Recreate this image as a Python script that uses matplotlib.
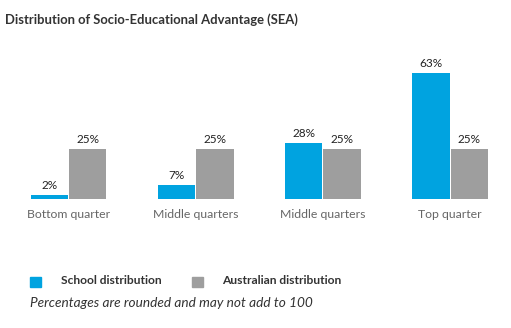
import matplotlib.pyplot as plt
import numpy as np

categories = ['Bottom quarter', 'Middle quarters', 'Middle quarters', 'Top quarter']
school = [2, 7, 28, 63]
australia = [25, 25, 25, 25]
series_names = ['School distribution', 'Australian distribution']

blue = '#00a3e0'
grey = '#9e9e9e'

plt.rcParams['font.family'] = ['Lato', 'DejaVu Sans']

W, H = 511, 328
fig = plt.figure(figsize=(W / 100, H / 100), dpi=100)

# axes placed in pixel terms: baseline at y=199, top at y=60
ax = fig.add_axes([0, (H - 199) / H, 1, 139 / H])
x = np.arange(len(categories))
width = 0.295
off = 0.151
ax.bar(x - off, school, width, color=blue)
ax.bar(x + off, australia, width, color=grey)

for xi, v in zip(x - off, school):
    ax.text(xi, v + 2.2, f'{v}%', ha='center', va='bottom', fontsize=8.5, color='#222222')
for xi, v in zip(x + off, australia):
    ax.text(xi, v + 2.2, f'{v}%', ha='center', va='bottom', fontsize=8.5, color='#222222')

ax.set_xlim(-68.5 / 127.2, (W - 68.5) / 127.2)
ax.set_ylim(0, 69.5)
ax.axis('off')

for xi, c in zip(x, categories):
    ax.text(xi, -7.5, c, ha='center', va='center', fontsize=8.8, color='#666666')

fig.text(5 / W, 1 - 20 / H, 'Distribution of Socio-Educational Advantage (SEA)',
         ha='left', va='center', fontsize=9.35, fontweight='bold', color='#333333')

# legend drawn by hand
fig.patches.append(plt.Rectangle((30 / W, 1 - 287 / H), 11 / W, 10 / H,
                                 transform=fig.transFigure, color=blue))
fig.text(61 / W, 1 - 281 / H, series_names[0], ha='left', va='center',
         fontsize=8.65, fontweight='bold', color='#333333')
fig.patches.append(plt.Rectangle((192 / W, 1 - 287 / H), 11 / W, 10 / H,
                                 transform=fig.transFigure, color=grey))
fig.text(222 / W, 1 - 281 / H, series_names[1], ha='left', va='center',
         fontsize=8.65, fontweight='bold', color='#333333')

fig.text(30 / W, 1 - 303 / H, 'Percentages are rounded and may not add to 100',
         ha='left', va='center', fontsize=9.8, style='italic', color='#333333')

fig.savefig('out.png', dpi=100)
